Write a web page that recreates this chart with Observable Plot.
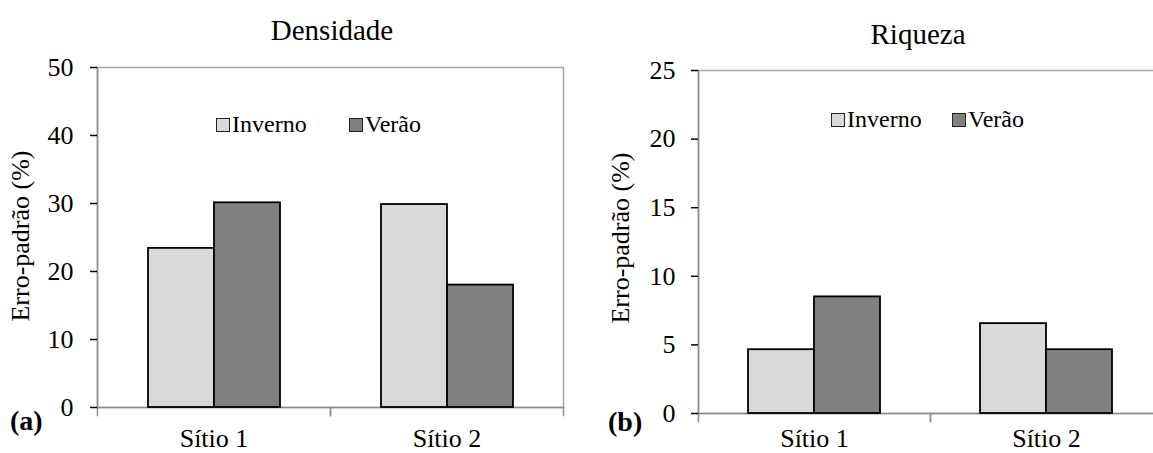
<!DOCTYPE html>
<html>
<head>
<meta charset="utf-8">
<script src="https://cdn.jsdelivr.net/npm/d3@7"></script>
<script src="https://cdn.jsdelivr.net/npm/@observablehq/plot@0.6"></script>
<style>
  html, body { margin: 0; padding: 0; background: #fff; overflow: hidden; }
  #fig { position: relative; width: 1153px; height: 453px; overflow: hidden; font-family: "Liberation Serif", Tinos, "Times New Roman", serif; color: #000; }
  .panel { position: absolute; top: 0; }
  .panel svg { max-width: none !important; }
  .txt { position: absolute; line-height: 1; white-space: nowrap; }
  .title { font-size: 29px; width: 400px; text-align: center; }
  .ylab { font-size: 26px; transform: translate(-50%, -50%) rotate(-90deg); }
  .tag { font-size: 28px; font-weight: bold; }
  .key { position: absolute; width: 12px; height: 12px; border: 1px solid #222; }
  .keytxt { font-size: 24px; }
  .panel svg [aria-label="y-axis tick"] { stroke: #8c8c8c; stroke-width: 1.5px; }
</style>
</head>
<body>
<div id="fig">
  <div id="pa" class="panel" style="left:0; width:580px"></div>
  <div id="pb" class="panel" style="left:580px; width:592px"></div>

  <div class="txt title" style="left:132px; top:16px">Densidade</div>
  <div class="txt title" style="left:718px; top:20px">Riqueza</div>

  <div class="txt ylab" style="left:21px; top:236px">Erro-padrão (%)</div>
  <div class="txt ylab" style="left:621px; top:238px">Erro-padrão (%)</div>

  <div class="txt tag" style="left:10px; top:407px">(a)</div>
  <div class="txt tag" style="left:608px; top:408px">(b)</div>

  <div class="key" style="left:216px; top:118px; background:#d9d9d9"></div>
  <div class="txt keytxt" style="left:232px; top:112px">Inverno</div>
  <div class="key" style="left:349px; top:118px; background:#808080"></div>
  <div class="txt keytxt" style="left:365px; top:112px">Verão</div>

  <div class="key" style="left:831px; top:113px; background:#d9d9d9"></div>
  <div class="txt keytxt" style="left:847px; top:107px">Inverno</div>
  <div class="key" style="left:952px; top:113px; background:#808080"></div>
  <div class="txt keytxt" style="left:968px; top:107px">Verão</div>
</div>
<script>
// Standard error (%) by site and season
const sites = ["Sítio 1", "Sítio 2"];
const seasons = ["Inverno", "Verão"];
const seasonColors = ["#d9d9d9", "#808080"];

const densidadeInverno = [23.4, 29.85];
const densidadeVerao = [30.1, 18.0];
const densidadeTicks = [0, 10, 20, 30, 40, 50];

const riquezaInverno = [4.65, 6.55];
const riquezaVerao = [8.5, 4.65];
const riquezaTicks = [0, 5, 10, 15, 20, 25];

const serif = "'Liberation Serif', Tinos, 'Times New Roman', serif";

function rowsFor(inverno, verao) {
  return sites.flatMap((site, i) => [
    {site, season: seasons[0], value: inverno[i]},
    {site, season: seasons[1], value: verao[i]}
  ]);
}

function panel({rows, ticks, width, height, marginLeft, marginRight, marginTop, marginBottom, tickPadding, labelPadding}) {
  const plotHeight = height - marginTop - marginBottom;
  const axisGray = "#8c8c8c";
  const boxGray = "#a6a6a6";
  return Plot.plot({
    width, height, marginLeft, marginRight, marginTop, marginBottom,
    style: {fontFamily: serif, fontSize: "26px", color: "#000", background: "transparent", overflow: "visible", maxWidth: "none"},
    fx: {domain: sites, padding: 0, label: null},
    x: {domain: seasons, paddingInner: 0, paddingOuter: 0.745, axis: null},
    y: {domain: [ticks[0], ticks[ticks.length - 1]], axis: null},
    color: {domain: seasons, range: seasonColors},
    marks: [
      // plot-area border, then the darker axis lines
      Plot.frame({facet: "super", stroke: boxGray, strokeWidth: 1.5}),
      Plot.frame({facet: "super", anchor: "left", stroke: axisGray, strokeWidth: 1.5}),
      Plot.frame({facet: "super", anchor: "bottom", stroke: axisGray, strokeWidth: 1.5}),
      // category boundary ticks below the x axis
      Plot.frame({anchor: "left", insetTop: plotHeight, insetBottom: -8, stroke: axisGray, strokeWidth: 1.5}),
      Plot.frame({anchor: "right", insetTop: plotHeight, insetBottom: -8, stroke: axisGray, strokeWidth: 1.5}),
      Plot.barY(rows, {fx: "site", x: "season", y: "value", fill: "season", stroke: "#000", strokeWidth: 1.8}),
      Plot.axisY({ticks, tickSize: 7, tickPadding, label: null, fontSize: 26, tickFormat: d => String(d)}),
      Plot.axisFx({anchor: "bottom", tickSize: 0, tickPadding: labelPadding, label: null, fontSize: 26})
    ]
  });
}

document.getElementById("pa").append(panel({
  rows: rowsFor(densidadeInverno, densidadeVerao),
  ticks: densidadeTicks,
  width: 580, height: 453,
  marginLeft: 97, marginRight: 17, marginTop: 67, marginBottom: 46,
  tickPadding: 17, labelPadding: 21
}));

document.getElementById("pb").append(panel({
  rows: rowsFor(riquezaInverno, riquezaVerao),
  ticks: riquezaTicks,
  width: 592, height: 453,
  marginLeft: 117, marginRight: 10, marginTop: 70, marginBottom: 40,
  tickPadding: 16, labelPadding: 15
}));
</script>
</body>
</html>
